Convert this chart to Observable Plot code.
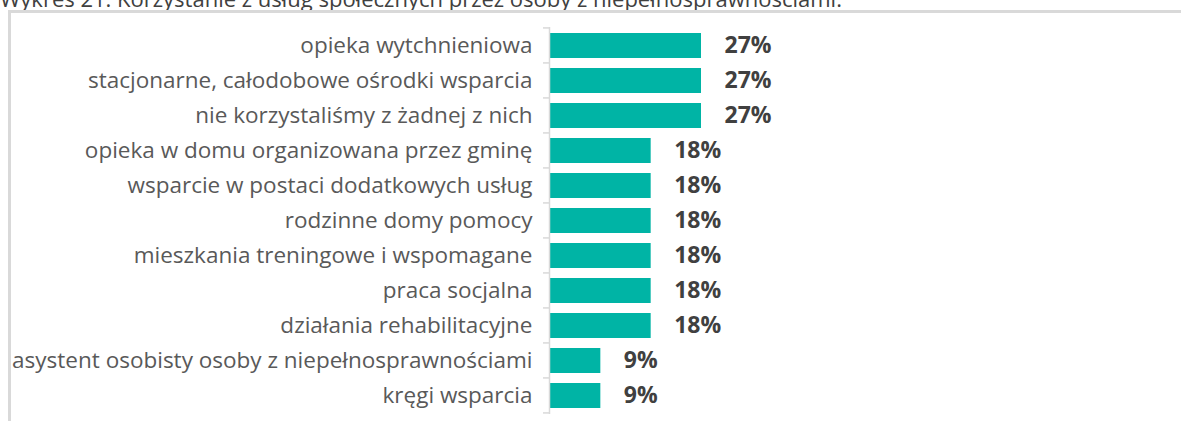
<!DOCTYPE html>
<html><head><meta charset="utf-8">
<script src="https://cdn.jsdelivr.net/npm/d3@7"></script>
<script src="https://cdn.jsdelivr.net/npm/@observablehq/plot@0.6"></script>
<style>
html,body{margin:0;padding:0;background:#fff;overflow:hidden;}
#wrap{position:relative;width:1181px;height:421px;}
#title{position:absolute;left:0;top:-17px;font-family:"Open Sans",sans-serif;font-size:22px;color:#404040;white-space:nowrap;}
#frame{position:absolute;left:8px;top:10px;width:1200px;height:500px;border-top:3px solid #d9d9d9;border-left:3px solid #d9d9d9;box-sizing:border-box;}
#chart{position:absolute;left:0;top:0;}
</style></head>
<body><div id="wrap"><div id="title">Wykres 21. Korzystanie z usług społecznych przez osoby z niepełnosprawnościami.</div><div id="frame"></div><div id="chart"></div></div>
<script>
const categories = [
  "opieka wytchnieniowa",
  "stacjonarne, całodobowe ośrodki wsparcia",
  "nie korzystaliśmy z żadnej z nich",
  "opieka w domu organizowana przez gminę",
  "wsparcie w postaci dodatkowych usług",
  "rodzinne domy pomocy",
  "mieszkania treningowe i wspomagane",
  "praca socjalna",
  "działania rehabilitacyjne",
  "asystent osobisty osoby z niepełnosprawnościami",
  "kręgi wsparcia"
];
const values = [27, 27, 27, 18, 18, 18, 18, 18, 18, 9, 9];
const data = categories.map((c, i) => ({category: c, value: values[i]}));

const pInner = 0.29;
const boundaryTicks = (index, scales, vals, dims) => {
  const y = scales.y;
  const g = d3.create("svg:g");
  const step = y.step ? y.step() : (y(categories[1]) - y(categories[0]));
  const ys = categories.map(c => y(c) - step * pInner / 2);
  ys.push(ys[ys.length - 1] + step);
  const x0 = dims.marginLeft - 1;
  for (const yy of ys) {
    g.append("line").attr("x1", x0 - 6).attr("x2", x0).attr("y1", yy).attr("y2", yy)
      .attr("stroke", "#d9d9d9").attr("stroke-width", 1.5);
  }
  return g.node();
};

const chart = Plot.plot({
  width: 1181,
  height: 421,
  marginLeft: 550,
  marginRight: 480,
  marginTop: 27,
  marginBottom: 7,
  style: {fontFamily: "'Open Sans', sans-serif", background: "transparent", overflow: "visible"},
  x: {domain: [0, 27], axis: null},
  y: {domain: categories, paddingInner: pInner, paddingOuter: pInner / 2, label: null, axis: null},
  marks: [
    Plot.barX(data, {x: "value", y: "category", fill: "#00b4a5"}),
    Plot.ruleX([0], {stroke: "#d9d9d9", strokeWidth: 1.5, dx: -1}),
    boundaryTicks,
    Plot.axisY({tickSize: 0, tickPadding: 18, fontSize: 22.5, fill: "#595959", label: null}),
    Plot.text(data, {x: "value", y: "category", text: d => d.value + "%", dx: 23, textAnchor: "start",
      fontSize: 23, fontWeight: "bold", fill: "#404040"})
  ]
});
document.getElementById("chart").appendChild(chart);
</script></body></html>
